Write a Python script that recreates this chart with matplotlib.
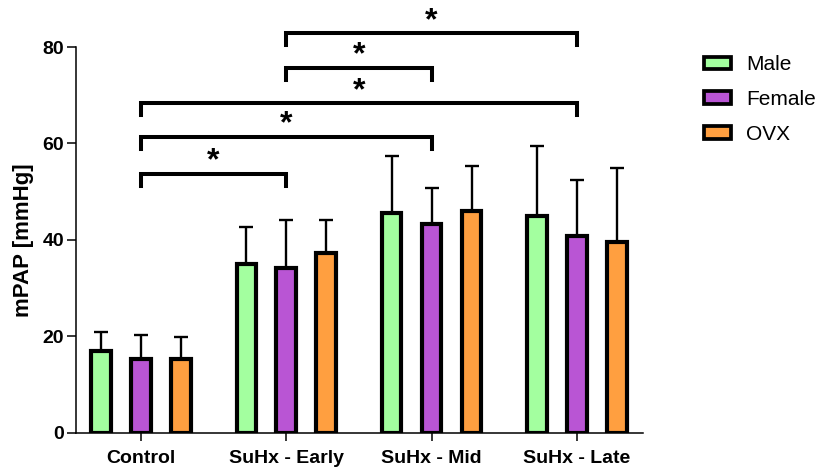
import numpy as np
import matplotlib
matplotlib.use("Agg")
import matplotlib.pyplot as plt
from matplotlib.patches import Patch

plt.rcParams['font.family'] = ['Liberation Sans', 'DejaVu Sans']

groups = ["Control", "SuHx - Early", "SuHx - Mid", "SuHx - Late"]
series = ["Male", "Female", "OVX"]

male = [17.0, 35.0, 45.6, 45.0]
male_sd = [3.9, 7.6, 11.8, 14.5]
female = [15.4, 34.1, 43.3, 40.8]
female_sd = [4.8, 10.0, 7.5, 11.6]
ovx = [15.4, 37.2, 46.0, 39.6]
ovx_sd = [4.4, 7.0, 9.3, 15.3]

colors = ["#a3ff9f", "#b955d4", "#ff9f40"]

# significance brackets: (group a, group b, bracket height)
brackets = [(0, 1, 53.6), (0, 2, 61.3), (0, 3, 68.3), (1, 2, 75.6), (1, 3, 82.8)]

fig = plt.figure(figsize=(8.18, 4.70), dpi=100)
ax = fig.add_axes([0.093, 0.079, 0.693, 0.821])

x = np.arange(len(groups))
offset = 0.275
width = 0.135
means = [male, female, ovx]
sds = [male_sd, female_sd, ovx_sd]

for i in range(3):
    pos = x + (i - 1) * offset
    ax.errorbar(pos, means[i], yerr=[np.zeros(4), sds[i]], fmt='none',
                ecolor='black', elinewidth=1.7, capsize=4.7, capthick=1.7, zorder=1)
    ax.bar(pos, means[i], width, color=colors[i], edgecolor='black',
           linewidth=3.0, zorder=2)

drop = 2.4
for a, b, h in brackets:
    ax.plot([x[a], x[a], x[b], x[b]], [h - drop, h, h, h - drop], color='black',
            lw=2.9, clip_on=False, solid_joinstyle='miter', zorder=3)
    ax.text((x[a] + x[b]) / 2, h - 0.5, "*", ha='center', va='bottom',
            fontsize=23, fontweight='bold', clip_on=False)

ax.set_xlim(-0.447, 3.455)
ax.set_ylim(0, 80)
ax.set_yticks([0, 20, 40, 60, 80])
ax.set_xticks(x)
ax.set_xticklabels(groups)
for lab in ax.get_xticklabels() + ax.get_yticklabels():
    lab.set_fontweight('bold')
    lab.set_fontsize(14)
ax.tick_params(axis='y', length=6.5, width=1.1, pad=2)
ax.tick_params(axis='x', length=6, width=1.1, pad=6)
ax.spines['top'].set_visible(False)
ax.spines['right'].set_visible(False)
ax.spines['left'].set_linewidth(1.1)
ax.spines['bottom'].set_linewidth(1.1)
ax.set_ylabel("mPAP [mmHg]", fontsize=16, fontweight='bold', labelpad=6)

handles = [Patch(facecolor=c, edgecolor='black', linewidth=2.7) for c in colors]
fig.legend(handles, series, loc='upper left', bbox_to_anchor=(0.838, 0.922),
           frameon=False, fontsize=15, handlelength=1.3, handleheight=0.55,
           handletextpad=0.7, labelspacing=0.75)

fig.savefig("out.png", dpi=100)
